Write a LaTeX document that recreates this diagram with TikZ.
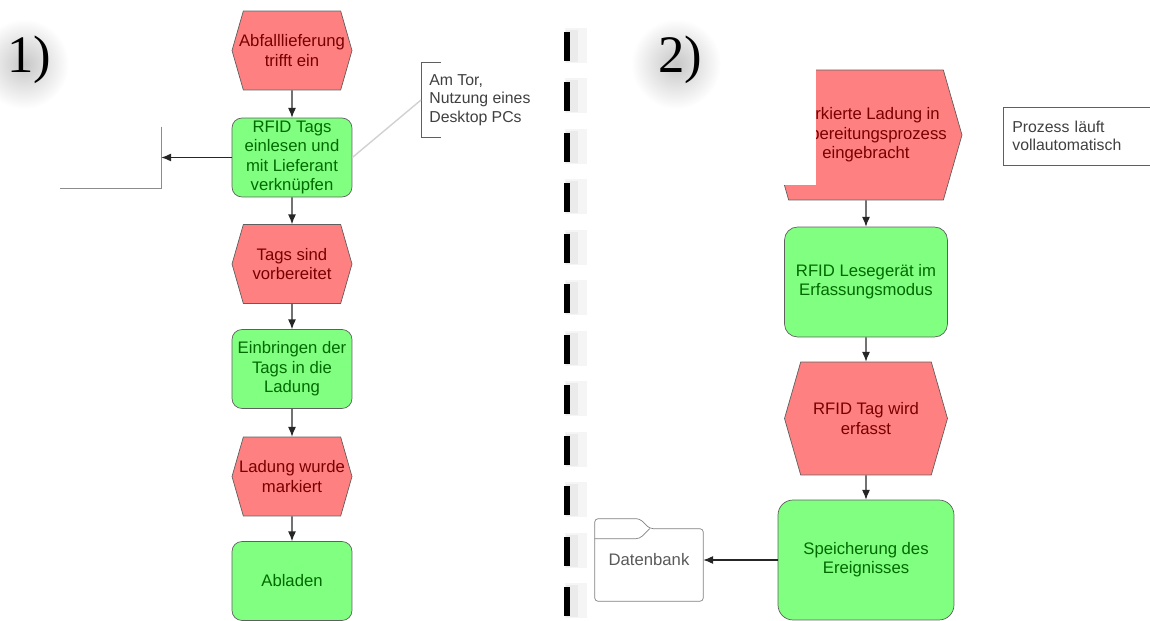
\documentclass[tikz,border=0pt]{standalone}
\usepackage{fontspec}
\setmainfont{Liberation Sans}
\newfontfamily\numfont{Liberation Serif}
\usetikzlibrary{shapes.symbols,arrows.meta}
\definecolor{eventred}{RGB}{255,128,128}
\definecolor{eventtext}{RGB}{120,0,0}
\definecolor{funcgreen}{RGB}{128,255,128}
\definecolor{functext}{RGB}{0,105,0}
\definecolor{linegray}{RGB}{95,95,95}

\begin{document}
\begin{tikzpicture}[x=0.02cm, y=-0.02cm,
    event/.style={shape=signal, signal to=east and west, signal pointer angle=148, draw=linegray, fill=eventred, text=eventtext, align=center, inner xsep=-0.12cm, inner ysep=0pt, font=\fontsize{9.5}{11}\selectfont},
    func/.style={draw=linegray, fill=funcgreen, text=functext, rounded corners=0.2cm, align=center, inner sep=0pt, font=\fontsize{9.5}{11}\selectfont},
    leftsize/.style={minimum width=2.4cm, minimum height=1.58cm},
    note/.style={text=black!75, align=left, font=\fontsize{9}{10.5}\selectfont},
    flow/.style={draw=black!85, line width=0.6pt, -{Latex[length=5.5pt,width=4.5pt]}},
    glow/.style={inner color=black!22, outer color=white},
    num/.style={anchor=base, inner sep=0pt, font=\numfont\fontsize{30}{30}\selectfont}
]
\useasboundingbox (0,0) rectangle (1150,621);
\clip (0,0) rectangle (1150,621);

\shade[glow] (24,64) circle (0.9cm);
\shade[glow] (676,64) circle (0.9cm);
\node[num] (lab1) at (29,73) {1)};
\node[num] (lab2) at (680,73) {2)};

\draw[black!4, line width=0.45cm, dash pattern=on 0.7cm off 0.31cm] (576,28) -- (576,640);
\draw[black!8, line width=0.24cm, dash pattern=on 0.64cm off 0.37cm] (572,30) -- (572,640);
\draw[line width=0.12cm, dash pattern=on 0.58cm off 0.43cm] (567,32) -- (567,640);

\node[event, leftsize] (e1) at (292,50.5) {Abfalllieferung\\trifft ein};
\node[func, leftsize] (f1) at (292,157.5) {RFID Tags\\einlesen und\\mit Lieferant\\verknüpfen};
\node[event, leftsize] (e2) at (292,264) {Tags sind\\vorbereitet};
\node[func, leftsize] (f2) at (292,369) {Einbringen der\\Tags in die\\Ladung};
\node[event, leftsize] (e3) at (292,476.5) {Ladung wurde\\markiert};
\node[func, leftsize] (f3) at (292,581) {Abladen};

\node[minimum width=2.02cm, minimum height=1.22cm] (out) at (110.5,157.5) {};
\draw[black!45] (out.north east) -- (out.south east) -- (out.south west);

\node[note, anchor=west, minimum height=1.48cm, inner xsep=0.16cm] (tor) at (421,100) {Am Tor,\\Nutzung eines\\Desktop PCs};
\draw[linegray] ([xshift=0.4cm]tor.north west) -- (tor.north west) -- (tor.south west) -- ++(20,0);
\draw[black!18, line width=0.8pt] (f1.east) -- (tor.west);

\draw[flow] (e1) -- (f1);
\draw[flow] (f1) -- (e2);
\draw[flow] (e2) -- (f2);
\draw[flow] (f2) -- (e3);
\draw[flow] (e3) -- (f3);
\draw[flow] (f1) -- (out);

\node[event, minimum width=3.84cm, minimum height=2.6cm] (r1) at (866,135) {Markierte Ladung in\\Aufbereitungsprozess\\eingebracht};
\fill[white] (740,45) rectangle (816,185);
\node[func, rounded corners=0.26cm, minimum width=3.26cm, minimum height=2.2cm] (r2) at (866,282) {RFID Lesegerät im\\Erfassungsmodus};
\node[event, minimum width=3.26cm, minimum height=2.26cm] (r3) at (866,418.5) {RFID Tag wird\\erfasst};
\node[func, rounded corners=0.3cm, minimum width=3.52cm, minimum height=2.4cm] (r4) at (866,560) {Speicherung des\\Ereignisses};

\node[note, draw=linegray, anchor=west, text width=2.8cm, minimum height=1.16cm, inner xsep=0.18cm] (auto) at (1003,136) {Prozess läuft\\vollautomatisch};

\node[text=black!65, font=\fontsize{9.5}{11}\selectfont, minimum width=2.16cm, minimum height=1.64cm] (db) at (649,560) {Datenbank};
\draw[black!50, rounded corners=2pt] (db.south west) -- (db.north west) -- ++(45,0) -- ++(10,10) -- ([yshift=-0.2cm]db.north east) -- (db.south east) -- cycle;
\draw[black!50, rounded corners=2pt] ([yshift=-0.4cm]db.north west) -- ++(45,0) -- ++(10,-10);

\draw[flow] (r1) -- (r2);
\draw[flow] (r2) -- (r3);
\draw[flow] (r3) -- (r4);
\draw[flow] (r4) -- (db);
\end{tikzpicture}
\end{document}
